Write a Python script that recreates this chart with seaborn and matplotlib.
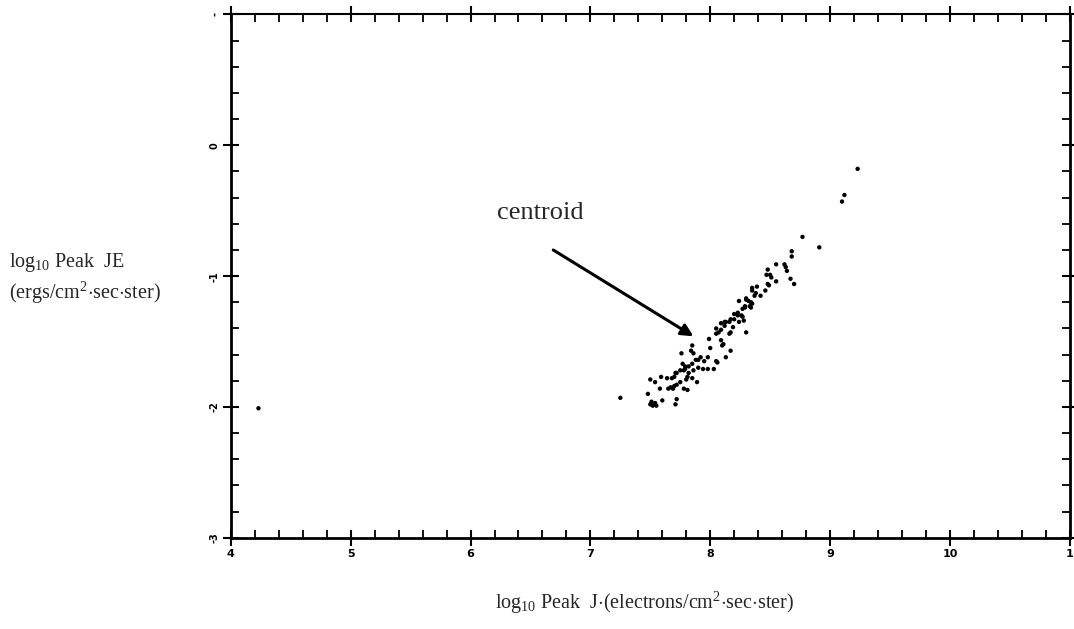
import matplotlib
matplotlib.use("Agg")
import matplotlib.pyplot as plt
import seaborn as sns
import pandas as pd
from matplotlib.ticker import MultipleLocator

# ---- data ----
peak_j = [
    4.23, 7.25, 9.23, 9.12, 9.10, 8.77, 8.91, 8.68, 8.68,
    8.55, 8.62, 8.63, 8.64, 8.48, 8.47, 8.50, 8.51, 8.55, 8.67, 8.70, 8.48, 8.49, 8.39, 8.35, 8.35,
    8.46, 8.38, 8.37, 8.42, 8.24, 8.30, 8.32, 8.35, 8.29, 8.33, 8.30, 8.34, 8.29, 8.34,
    8.23, 8.27, 8.26, 8.20, 8.23, 8.27, 8.16, 8.24, 8.28, 8.20, 8.17, 8.13, 8.09, 8.12, 8.12,
    8.17, 8.19, 8.30, 8.05, 8.07, 8.09, 8.11, 8.09, 8.05, 7.99, 8.00, 8.16, 8.17, 8.13, 8.10,
    7.85, 7.84, 7.86, 7.76, 7.90, 7.92, 7.95, 7.98, 8.05, 7.77, 7.82, 7.86, 7.90, 7.94, 7.98,
    8.03, 8.06, 7.88, 7.85, 7.78, 7.79,
    7.72, 7.75, 7.79, 7.80, 7.85, 7.89, 7.64, 7.70, 7.81, 7.82, 7.68, 7.71,
    7.50, 7.54, 7.59, 7.65, 7.67, 7.70, 7.72, 7.78, 7.81, 7.58, 7.69, 7.75,
    7.48, 7.50, 7.52, 7.54, 7.51, 7.55, 7.60, 7.71, 7.72,
]
peak_je = [
    -2.01, -1.93, -0.18, -0.38, -0.43, -0.70, -0.78, -0.81, -0.85,
    -0.91, -0.91, -0.93, -0.96, -0.95, -0.99, -0.99, -1.01, -1.04, -1.02, -1.06, -1.06, -1.07, -1.08, -1.09, -1.11,
    -1.11, -1.13, -1.15, -1.15, -1.19, -1.18, -1.19, -1.21, -1.23, -1.23, -1.17, -1.20, -1.24, -1.24,
    -1.28, -1.25, -1.30, -1.33, -1.30, -1.31, -1.35, -1.35, -1.34, -1.29, -1.33, -1.35, -1.36, -1.38, -1.35,
    -1.43, -1.39, -1.43, -1.40, -1.43, -1.49, -1.52, -1.41, -1.44, -1.48, -1.55, -1.44, -1.57, -1.62, -1.53,
    -1.53, -1.57, -1.59, -1.59, -1.64, -1.62, -1.65, -1.62, -1.65, -1.67, -1.69, -1.72, -1.70, -1.71, -1.71,
    -1.71, -1.66, -1.64, -1.67, -1.72, -1.69,
    -1.74, -1.72, -1.71, -1.79, -1.78, -1.81, -1.78, -1.77, -1.77, -1.74, -1.78, -1.74,
    -1.79, -1.81, -1.77, -1.86, -1.85, -1.84, -1.83, -1.86, -1.87, -1.86, -1.86, -1.81,
    -1.90, -1.98, -1.99, -1.97, -1.96, -1.99, -1.95, -1.98, -1.94,
]
x_ticks = [4, 5, 6, 7, 8, 9, 10, 11]
x_tick_labels = ["4", "5", "6", "7", "8", "9", "10", "1"]
y_ticks = [-3, -2, -1, 0, 1]
y_tick_labels = ["-3", "-2", "-1", "0", "-"]
annotation_text = "centroid"
annotation_pos = (6.22, -0.52)
centroid_tip = (7.86, -1.46)
centroid_tail = (6.69, -0.80)

df = pd.DataFrame({"J": peak_j, "JE": peak_je})

sns.set_theme(style="white")
plt.rcParams["mathtext.fontset"] = "custom"
plt.rcParams["mathtext.rm"] = "Liberation Serif"
plt.rcParams["mathtext.it"] = "Liberation Serif:italic"

fig = plt.figure(figsize=(10.74, 6.29), dpi=100)
ax = fig.add_axes([0.215, 0.145, 0.781, 0.832])

sns.scatterplot(data=df, x="J", y="JE", ax=ax, color="black", s=10,
                edgecolor="none", legend=False)

ax.set_xlim(4, 11)
ax.set_ylim(-3, 1)
ax.set_xticks(x_ticks)
ax.set_xticklabels(x_tick_labels, fontsize=8, fontweight="bold", family="DejaVu Sans")
ax.set_yticks(y_ticks)
ax.set_yticklabels(y_tick_labels, fontsize=7, fontweight="bold", rotation=90,
                   va="center", family="DejaVu Sans")
ax.xaxis.set_minor_locator(MultipleLocator(0.2))
ax.yaxis.set_minor_locator(MultipleLocator(0.2))

ax.tick_params(which="major", direction="inout", length=12, width=1.5, color="black",
               top=True, right=True, bottom=True, left=True, labelcolor="black", pad=2)
ax.tick_params(which="minor", direction="in", length=6, width=1.3, color="black",
               top=True, right=True, bottom=True, left=True)

for side, sp in ax.spines.items():
    sp.set_visible(True)
    sp.set_color("black")
    sp.set_linewidth(2.0 if side != "top" else 1.5)

ax.set_xlabel("")
ax.set_ylabel("")
ax.grid(False)

serif = "Liberation Serif"
fig.text(0.008, 0.583, r"log$_{10}$ Peak  JE", fontsize=14.5, family=serif, ha="left", va="center")
fig.text(0.008, 0.535, r"(ergs/cm$^{2}$$\cdot$sec$\cdot$ster)", fontsize=14.5, family=serif,
         ha="left", va="center")
fig.text(0.600, 0.041, r"log$_{10}$ Peak  J$\cdot$(electrons/cm$^{2}$$\cdot$sec$\cdot$ster)",
         fontsize=14.5, family=serif, ha="center", va="center")

ax.text(annotation_pos[0], annotation_pos[1], annotation_text, fontsize=19, family=serif,
        ha="left", va="center")
ax.annotate("", xy=centroid_tip, xytext=centroid_tail, textcoords="data",
            arrowprops=dict(arrowstyle="-|>", color="black", lw=2.2,
                            mutation_scale=18, shrinkA=0, shrinkB=0))

fig.savefig("out.png", dpi=100, facecolor="white")
